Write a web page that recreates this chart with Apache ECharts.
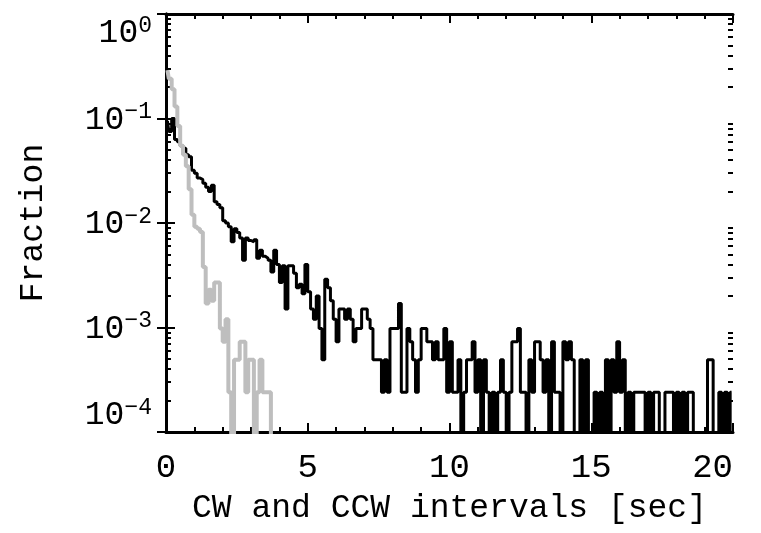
<!DOCTYPE html>
<html>
<head>
<meta charset="utf-8">
<script src="https://cdn.jsdelivr.net/npm/echarts@6/dist/echarts.min.js"></script>
<style>
html, body { margin: 0; padding: 0; background: #fff; }
#chart { width: 761px; height: 533px; }
</style>
</head>
<body>
<div id="chart"></div>
<script>
// histogram bins, 0.1 s wide (fraction per bin)
var binWidth = 0.1;

var cwFraction = [
	0.095, 0.075, 0.10, 0.063, 0.060, 0.055, 0.052, 0.045, 0.043, 0.032,
	0.030, 0.027, 0.026, 0.024, 0.022, 0.020, 0.023, 0.016, 0.015, 0.014,
	0.0105, 0.010, 0.0092, 0.0066, 0.0088, 0.0081, 0.0072, 0.0044, 0.0072, 0.0068,
	0.0066, 0.0069, 0.0046, 0.0055, 0.0048, 0.0046, 0.0044, 0.0034, 0.0055, 0.0040,
	0.0027, 0.0039, 0.0015, 0.0039, 0.0039, 0.0033, 0.0024, 0.0026, 0.0021, 0.0040,
	0.0022, 0.0015, 0.0012, 0.0020, 0.00098, 0.00049, 0.0029, 0.0024, 0.0018, 0.0012,
	0.00073, 0.0015, 0.0015, 0.0012, 0.0015, 0.0012, 0.00073, 0.00098, 0.00098, 0.0015,
	0.0015, 0.0012, 0.00098, 0.00049, 0.00049, 0.00049, 0.00024, 0.00049, 0.00024, 0.00098,
	0.00098, 0.00098, 0.0017, 0.00024, 0.00024, 0.00098, 0.00073, 0.00049, 0.00024, 0.00049,
	0.00098, 0.00098, 0.00073, 0.00073, 0.00049, 0.00073, 0.00049, 0.00049, 0.00098, 0.00024,
	0.00073, 0.00024, 0.00024, 0.00049, 0, 0.00024, 0.00049, 0.00049, 0.00073, 0.00024,
	0.00049, 0, 0.00049, 0.00024, 0, 0.00024, 0, 0.00024, 0.00049, 0.00024,
	0, 0.00024, 0.00073, 0.00073, 0.00098, 0.00024, 0.00024, 0, 0.00049, 0.00024,
	0.00073, 0.00073, 0.00049, 0.00024, 0.00049, 0, 0.00073, 0.00024, 0.00024, 0,
	0.00073, 0.00049, 0.00073, 0.00049, 0, 0, 0.00049, 0, 0.00049, 0,
	0, 0.00024, 0, 0.00024, 0, 0.00049, 0, 0.00049, 0.00024, 0.00073,
	0.00024, 0.00049, 0, 0.00024, 0, 0.00024, 0.00024, 0.00024, 0.00024, 0,
	0.00024, 0, 0.00024, 0.00024, 0, 0, 0.00024, 0.00024, 0.00024, 0,
	0.00024, 0, 0.00024, 0, 0.00024, 0.00024, 0, 0, 0, 0,
	0, 0.00049, 0.00049, 0, 0, 0.00024, 0, 0.00024, 0, 0.00024
];

var grayFraction = [
	0.29, 0.24, 0.19, 0.13, 0.085, 0.055, 0.045, 0.035, 0.021, 0.012,
	0.0092, 0.0088, 0.0082, 0.0038, 0.0017, 0.0023, 0.0018, 0.0027, 0.0027, 0.00098,
	0.00073, 0.0012, 0.00024, 0, 0.00049, 0.00049, 0.00073, 0.00073, 0.00024, 0.00049,
	0.00049, 0, 0.00024, 0.00049, 0.00024, 0.00024, 0.00024, 0
];

var xTicks = [0, 5, 10, 15, 20];
var yMinorTicks = [
	2e-4, 3e-4, 4e-4, 5e-4, 6e-4, 7e-4, 8e-4, 9e-4,
	2e-3, 3e-3, 4e-3, 5e-3, 6e-3, 7e-3, 8e-3, 9e-3,
	2e-2, 3e-2, 4e-2, 5e-2, 6e-2, 7e-2, 8e-2, 9e-2,
	0.2, 0.3, 0.4, 0.5, 0.6, 0.7, 0.8, 0.9
];

var FONT = 'Liberation Mono';
var FLOOR = 1e-6; // empty bins drop below the axis

function toSeries(arr) {
	var out = [];
	for (var i = 0; i < arr.length; i++) {
		out.push([(i + 0.5) * binWidth, arr[i] > 0 ? arr[i] : FLOOR]);
	}
	return out;
}

var chart = echarts.init(document.getElementById('chart'));

var axisLine = { show: true, lineStyle: { color: '#000', width: 3 } };
var majorTick = { show: true, inside: true, length: 9, lineStyle: { color: '#000', width: 2 } };

function xAx(pos, labels) {
	return {
		type: 'value', position: pos, min: 0, max: 20, interval: 5,
		axisLine: axisLine,
		axisTick: majorTick,
		minorTick: { show: true, splitNumber: 5, length: 5, lineStyle: { color: '#000', width: 2 } },
		splitLine: { show: false },
		axisLabel: labels ? {
			show: true, color: '#000', fontFamily: FONT, fontSize: 34, margin: 19,
			alignMaxLabel: 'right',
			customValues: xTicks
		} : { show: false },
		name: labels ? 'CW and CCW intervals [sec]' : '',
		nameLocation: 'middle', nameGap: 60,
		nameTextStyle: { color: '#000', fontFamily: FONT, fontSize: 33 }
	};
}

function yAx(pos, minor, labels) {
	return {
		type: 'log', logBase: 10, position: pos, min: 1e-4, max: 1,
		axisLine: minor ? { show: false } : axisLine,
		axisTick: minor ? { show: true, inside: true, length: 5, customValues: yMinorTicks,
			lineStyle: { color: '#000', width: 2 } } : majorTick,
		splitLine: { show: false },
		axisLabel: labels ? {
			show: true, margin: 14,
			verticalAlignMinLabel: 'bottom', verticalAlignMaxLabel: 'top',
			formatter: function (v) {
				var e = Math.round(Math.log(v) / Math.LN10);
				return '{b|10}{e|' + (e < 0 ? '\u2212' + (-e) : e) + '}';
			},
			rich: {
				b: { fontFamily: FONT, fontSize: 33, color: '#000', lineHeight: 36, verticalAlign: 'bottom' },
				e: { fontFamily: FONT, fontSize: 23, color: '#000', lineHeight: 23, verticalAlign: 'top' }
			}
		} : { show: false },
		name: labels ? 'Fraction' : '',
		nameLocation: 'middle', nameGap: 116,
		nameTextStyle: { color: '#000', fontFamily: FONT, fontSize: 33 }
	};
}

var option = {
	animation: false,
	backgroundColor: '#fff',
	grid: { left: 166, right: 28, top: 14, bottom: 101, containLabel: false, outerBoundsMode: 'none' },
	xAxis: [xAx('bottom', true), xAx('top', false)],
	yAxis: [yAx('left', false, true), yAx('right', false, false), yAx('left', true, false), yAx('right', true, false)],
	series: [
		{
			name: 'CW',
			type: 'line', step: 'middle', xAxisIndex: 0, yAxisIndex: 0,
			data: toSeries(cwFraction),
			showSymbol: false, symbol: 'none', clip: true,
			lineStyle: { color: '#000', width: 3 },
			z: 2
		},
		{
			name: 'CCW',
			type: 'line', step: 'middle', xAxisIndex: 0, yAxisIndex: 0,
			data: toSeries(grayFraction),
			showSymbol: false, symbol: 'none', clip: true,
			lineStyle: { color: '#bebebe', width: 4 },
			z: 3
		}
	]
};
chart.setOption(option);
</script>
</body>
</html>
